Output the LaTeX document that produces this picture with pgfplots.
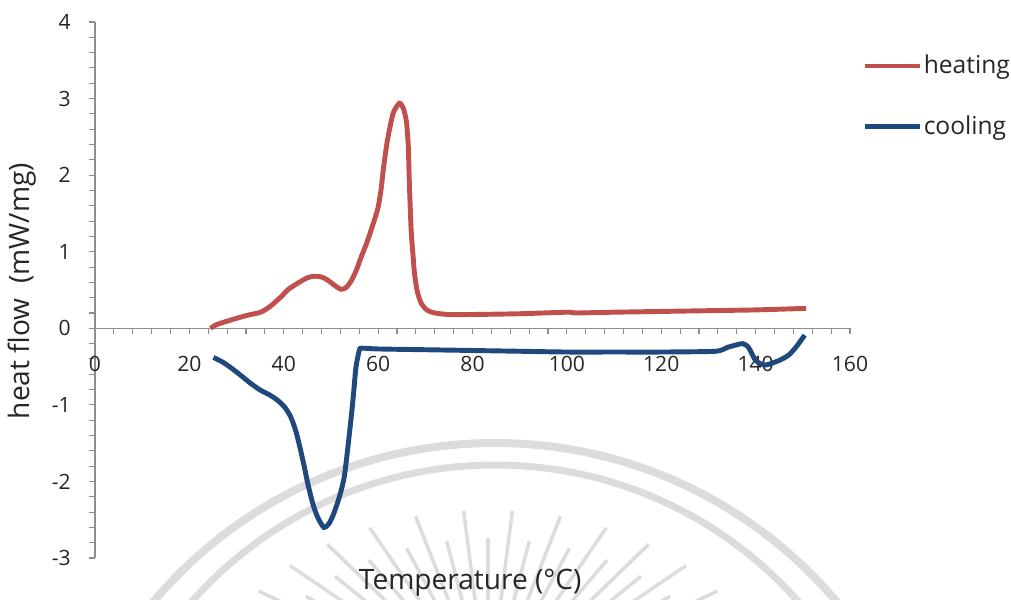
\documentclass[border=0pt]{standalone}
\usepackage{pgfplots}
\pgfplotsset{compat=1.18}
\usepackage{fontspec}
\setmainfont{Open Sans}
\definecolor{heatred}{RGB}{192,80,77}
\definecolor{coolblue}{RGB}{31,73,125}
\definecolor{axgray}{RGB}{140,140,140}
\definecolor{wm}{RGB}{220,220,220}
\begin{document}
\begin{tikzpicture}[x=1cm,y=1cm]
\useasboundingbox (-1.9,-0.84) rectangle (18.32,11.16);
% faint watermark (background decoration)
\begin{scope}
\clip (-1.9,-0.84) rectangle (18.32,11.16);
\draw[wm,line width=0.16cm] (8.0,-6.64) circle (8.94);
\draw[wm,line width=0.14cm] (8.0,-6.24) circle (8.1);
\foreach \a [count=\i] in {25,30,...,155} {
  \pgfmathsetmacro{\f}{mod(\i,2)==0 ? 0.85 : 1.0}
  \draw[wm,line width=0.07cm] ({7.86+0.4*5.6*cos(\a)},{-2.84+0.4*3.8*sin(\a)}) -- ({7.86+\f*5.6*cos(\a)},{-2.84+\f*3.8*sin(\a)});
}
\end{scope}
\begin{axis}[
  scale only axis,
  width=15.1cm, height=10.72cm,
  xmin=0, xmax=160, ymin=-3, ymax=4,
  axis x line=middle, axis y line=left,
  hide obscured x ticks=false, hide obscured y ticks=false,
  axis line style={axgray, line width=0.8pt, -},
  xtick={0,20,...,160}, ytick={-3,-2,...,4},
  minor x tick num=4, minor y tick num=4,
  tick align=outside,
  major tick length=0.11cm, minor tick length=0.11cm,
  tick style={axgray, line width=0.6pt},
  /pgf/number format/assume math mode=true,
  ticklabel style={font=\fontsize{12}{14}\selectfont, text=black!85},
  xticklabel style={yshift=-0.32cm},
  yticklabel style={xshift=-0.25cm},
  xlabel={Temperature (°C)},
  ylabel={heat flow\ \ (mW/mg)},
  label style={font=\fontsize{16}{18}\selectfont, text=black!85},
  xlabel style={at={(rel axis cs:0.497,0)}, anchor=center, yshift=-0.5cm},
  ylabel style={at={(rel axis cs:-0.0967,0.498)}, anchor=center},
  legend style={at={(rel axis cs:1.016,0.942)}, anchor=north west, draw=none, fill=none,
    font=\fontsize{14}{16}\selectfont, text=black!85, row sep=0.72cm, inner sep=0pt,
    nodes={inner sep=1pt}},
  legend cell align=left,
  legend image code/.code={\draw[#1, line width=2.6pt] (0cm,0cm) -- (1.1cm,0cm);},
  clip=false,
]
\addplot[heatred, line width=2.8pt, smooth, tension=0.4] coordinates {
(24.5,0.00) (25.5,0.04) (27.3,0.08) (30,0.13) (32.3,0.17) (35.1,0.21) (37,0.28)
(39.4,0.41) (41,0.51) (43,0.59) (45,0.66) (46.5,0.68) (48,0.67) (49.3,0.63)
(50.8,0.56) (52.1,0.51) (53.2,0.53) (54.3,0.62) (55.4,0.76) (56.4,0.93) (57.5,1.10)
(58.5,1.28) (59.3,1.43) (60,1.58) (60.6,1.80) (61,2.02) (61.5,2.26) (62.1,2.50)
(63.2,2.81) (64.5,2.94) (65.3,2.88) (66,2.70) (66.4,2.37) (66.6,1.93)
(67,1.28) (67.4,0.95) (67.7,0.72) (68.3,0.48) (69.1,0.33) (70.3,0.24) (72,0.20)
(75,0.18) (80,0.18) (90,0.19) (100,0.21) (102,0.20) (110,0.21) (120,0.22)
(130,0.23) (140,0.24) (150.7,0.26)
};
\addlegendentry{heating}
\addplot[coolblue, line width=2.8pt, smooth, tension=0.4] coordinates {
(25.1,-0.38) (27,-0.44) (28.7,-0.51) (31,-0.62) (33,-0.72) (35.1,-0.81) (37,-0.87)
(38.7,-0.94) (40.2,-1.03) (41.5,-1.16) (42.6,-1.35) (43.6,-1.60) (44.4,-1.82)
(45.1,-2.03) (46.2,-2.30) (47.2,-2.47) (48.5,-2.60) (49.6,-2.55) (50.6,-2.42)
(51.8,-2.20) (52.8,-1.95) (53.6,-1.55) (54.3,-1.16) (54.8,-0.85) (55.3,-0.51)
(56,-0.29) (56.5,-0.26) (60,-0.27) (70,-0.28) (80,-0.29) (90,-0.30) (100,-0.31)
(110,-0.31) (120,-0.31) (131.5,-0.30) (134,-0.25) (137.2,-0.20) (138.5,-0.25)
(140,-0.42) (142,-0.48) (145,-0.42) (147,-0.35) (148.5,-0.25) (150.4,-0.09)
};
\addlegendentry{cooling}
\end{axis}
\end{tikzpicture}
\end{document}
